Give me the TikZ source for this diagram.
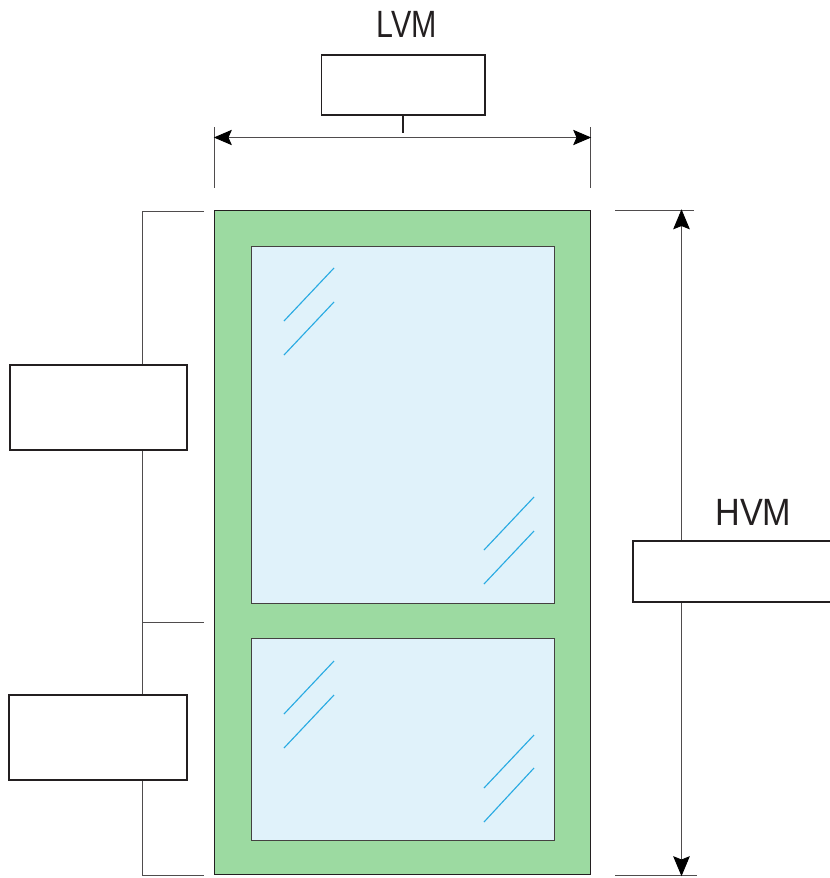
\documentclass[tikz,border=0pt]{standalone}
\usepackage{fontspec}
\setmainfont{Liberation Sans}
\usetikzlibrary{arrows.meta}
\definecolor{framegreen}{HTML}{9CDAA1}
\definecolor{panefill}{HTML}{E0F2FA}
\definecolor{glintblue}{HTML}{29ABE2}
\definecolor{inkdark}{HTML}{231F20}
\begin{document}
\begin{tikzpicture}[x=0.75pt,y=-0.75pt,
  emptybox/.style={draw=inkdark,fill=white,line width=1.25pt,inner sep=0pt,minimum width=#1},
  framebox/.style={draw=inkdark,fill=framegreen,line width=0.75pt,inner sep=0pt},
  panebox/.style={draw=inkdark!85,fill=panefill,line width=0.75pt,inner sep=0pt},
  glint/.style={draw=glintblue,line width=0.85pt},
  leader/.style={draw=inkdark!80,line width=0.65pt},
  dimline/.style={leader,{Stealth[length=13.5pt,width=11.5pt,inset=2.5pt,color=black]}-{Stealth[length=13.5pt,width=11.5pt,inset=2.5pt,color=black]},shorten <=-0.5pt,shorten >=-0.5pt},
  vdimline/.style={leader,-{Stealth[length=15pt,width=12.5pt,inset=2.5pt,color=black]},shorten >=-0.5pt},
  dimtext/.style={text=inkdark,font=\fontsize{28.5pt}{30pt}\selectfont,inner sep=0pt,anchor=base}]
\useasboundingbox (0,0) rectangle (830,878);
% window frame and panes
\node[framebox,minimum width=281.6pt,minimum height=498.4pt] (frame) at (402.5,542.3) {};
\node[panebox,minimum width=227pt,minimum height=267.8pt] (paneA) at (403.2,425) {};
\node[panebox,minimum width=227pt,minimum height=151.5pt] (paneB) at (403.2,739) {};
% label boxes
\node[emptybox=122.5pt,minimum height=45pt] (boxtop) at (403,85) {};
\node[emptybox=133pt,minimum height=63.7pt] (boxleftA) at (98.5,407.5) {};
\node[emptybox=133.5pt,minimum height=63.7pt] (boxleftB) at (98,737.5) {};
\node[emptybox=160pt,minimum height=45.7pt] (boxright) at (739.5,571.5) {};
% texts
\node[dimtext,xscale=0.8] (lvm) at (406.5,37.5) {LVM};
\node[dimtext,xscale=0.9] (hvm) at (753.3,525) {HVM};
% helper coordinates
\coordinate (dimL) at (214.5,137.5);
\coordinate (dimR) at (590.5,137.5);
\coordinate (extLt) at (214.5,127);
\coordinate (extLb) at (214.5,188);
\coordinate (extRt) at (590.5,127);
\coordinate (extRb) at (590.5,188);
\coordinate (stemEnd) at (403,133);
\coordinate (lTopEnd) at (204,211.5);
\coordinate (lTop) at (142.5,211.5);
\coordinate (lMidEnd) at (204,622.5);
\coordinate (lMid) at (142.5,622.5);
\coordinate (lBotEnd) at (204,875.5);
\coordinate (lBot) at (142.5,875.5);
\coordinate (rTopA) at (615,210);
\coordinate (rTopB) at (694,210);
\coordinate (rBotA) at (615,875.5);
\coordinate (rBotB) at (697,875.5);
\coordinate (vTop) at (681.5,210);
\coordinate (vBot) at (681.5,875.5);
% top dimension
\draw[leader] (extLt) -- (extLb);
\draw[leader] (extRt) -- (extRb);
\draw[dimline] (dimL) -- (dimR);
\draw[draw=inkdark,line width=1.1pt] (boxtop.south) -- (stemEnd);
% left leaders
\draw[leader] (lTopEnd) -- (lTop) -- (lTop |- boxleftA.north);
\draw[leader] (lTop |- boxleftA.south) -- (lTop |- boxleftB.north);
\draw[leader] (lMid) -- (lMidEnd);
\draw[leader] (lTop |- boxleftB.south) -- (lBot) -- (lBotEnd);
% right dimension
\draw[leader] (rTopA) -- (rTopB);
\draw[leader] (rBotA) -- (rBotB);
\draw[vdimline] (vTop |- boxright.north) -- (vTop);
\draw[vdimline] (vBot |- boxright.south) -- (vBot);
% glints
\foreach \ax/\ay/\bx/\by in {284/321/334/268,284/355/334/302,484/550/534/497,484/584/534/531,284/714/334/661,284/748/334/695,484/788/534/735,484/822/534/768}
  \draw[glint] (\ax,\ay) -- (\bx,\by);
\end{tikzpicture}
\end{document}
